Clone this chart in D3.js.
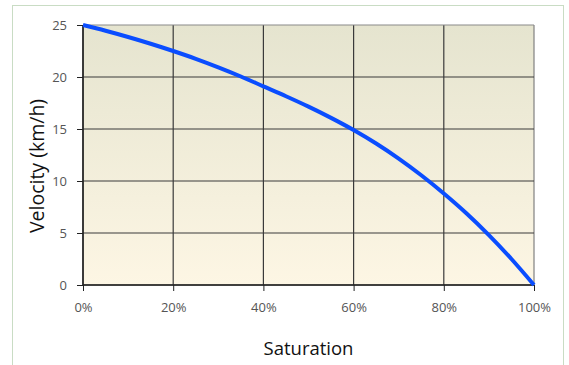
<!DOCTYPE html>
<html>
<head>
<meta charset="utf-8">
<script src="https://cdn.jsdelivr.net/npm/d3@7"></script>
<style>
html,body{margin:0;padding:0;background:#fff;}
svg{display:block;}
text{font-family:"Open Sans","Noto Sans",sans-serif;}
</style>
</head>
<body>
<svg id="chart" width="569" height="365"></svg>
<script>
// Data (saturation fraction, velocity km/h)
const saturation = [0, 0.05, 0.10, 0.15, 0.20, 0.25, 0.30, 0.35, 0.40, 0.45, 0.50, 0.55, 0.60, 0.65, 0.70, 0.75, 0.80, 0.85, 0.90, 0.95, 1.00];
const velocity   = [25, 24.45, 23.85, 23.2, 22.5, 21.75, 20.93, 20.05, 19.1, 18.15, 17.15, 16.07, 14.9, 13.6, 12.15, 10.55, 8.8, 6.9, 4.8, 2.5, 0];
const xTicks = [0, 0.2, 0.4, 0.6, 0.8, 1.0];
const yTicks = [0, 5, 10, 15, 20, 25];
const xLabel = "Saturation";
const yLabel = "Velocity (km/h)";

const svg = d3.select("#chart");
const m = {left: 83, right: 35, top: 25, bottom: 80};
const W = 569, H = 365;
const x = d3.scaleLinear().domain([0, 1]).range([m.left, W - m.right]);
const y = d3.scaleLinear().domain([0, 25]).range([H - m.bottom, m.top]);

// outer frame
svg.append("rect").attr("x", 12.5).attr("y", 5.5).attr("width", 551).attr("height", 380)
  .attr("fill", "none").attr("stroke", "#c9dcc4").attr("stroke-width", 1);

// background gradient
const defs = svg.append("defs");
const g = defs.append("linearGradient").attr("id", "bg").attr("x1", 0).attr("y1", 0).attr("x2", 0).attr("y2", 1);
g.append("stop").attr("offset", "0%").attr("stop-color", "#e5e4cf");
g.append("stop").attr("offset", "100%").attr("stop-color", "#fdf6e4");
svg.append("rect").attr("x", x(0)).attr("y", y(25)).attr("width", x(1) - x(0)).attr("height", y(0) - y(25))
  .attr("fill", "url(#bg)");

// grid
svg.append("g").selectAll("line").data(xTicks).join("line")
  .attr("x1", d => x(d)).attr("x2", d => x(d)).attr("y1", y(25)).attr("y2", y(0))
  .attr("stroke", d => (d === 1 ? "#808080" : "#3a3a3a")).attr("stroke-width", 1.2);
svg.append("g").selectAll("line").data(yTicks).join("line")
  .attr("x1", x(0)).attr("x2", x(1)).attr("y1", d => y(d)).attr("y2", d => y(d))
  .attr("stroke", d => (d === 25 ? "#8a8a8a" : "#3a3a3a")).attr("stroke-width", 1.2);

// axes
const xAxis = svg.append("g").attr("transform", `translate(0,${y(0)})`)
  .call(d3.axisBottom(x).tickValues(xTicks).tickFormat(d3.format(".0%")).tickSize(6).tickPadding(12));
const yAxis = svg.append("g").attr("transform", `translate(${x(0)},0)`)
  .call(d3.axisLeft(y).tickValues(yTicks).tickSize(6).tickPadding(10));
[xAxis, yAxis].forEach(a => {
  a.select(".domain").attr("stroke", "#222").attr("stroke-width", 1.5);
  a.selectAll(".tick line").attr("stroke", "#222");
  a.selectAll(".tick text").attr("fill", "#555").attr("font-size", 13).attr("font-family", "'Open Sans','Noto Sans',sans-serif");
});
xAxis.select(".domain").attr("d", `M${x(0)},0H${x(1)}`);
yAxis.select(".domain").attr("d", `M0,${y(0)}V${y(25)}`);

// curve
const line = d3.line().x((d, i) => x(saturation[i])).y(d => y(d)).curve(d3.curveMonotoneX);
svg.append("path").datum(velocity).attr("d", line)
  .attr("fill", "none").attr("stroke", "#0a4dff").attr("stroke-width", 4).attr("stroke-linecap", "butt");

// labels
svg.append("text").attr("x", (x(0) + x(1)) / 2).attr("y", 355).attr("text-anchor", "middle")
  .attr("font-size", 18.5).attr("fill", "#111").text(xLabel);
svg.append("text").attr("transform", `translate(44,166) rotate(-90)`)
  .attr("text-anchor", "middle").attr("font-size", 19.5).attr("fill", "#111").text(yLabel);
</script>
</body>
</html>
